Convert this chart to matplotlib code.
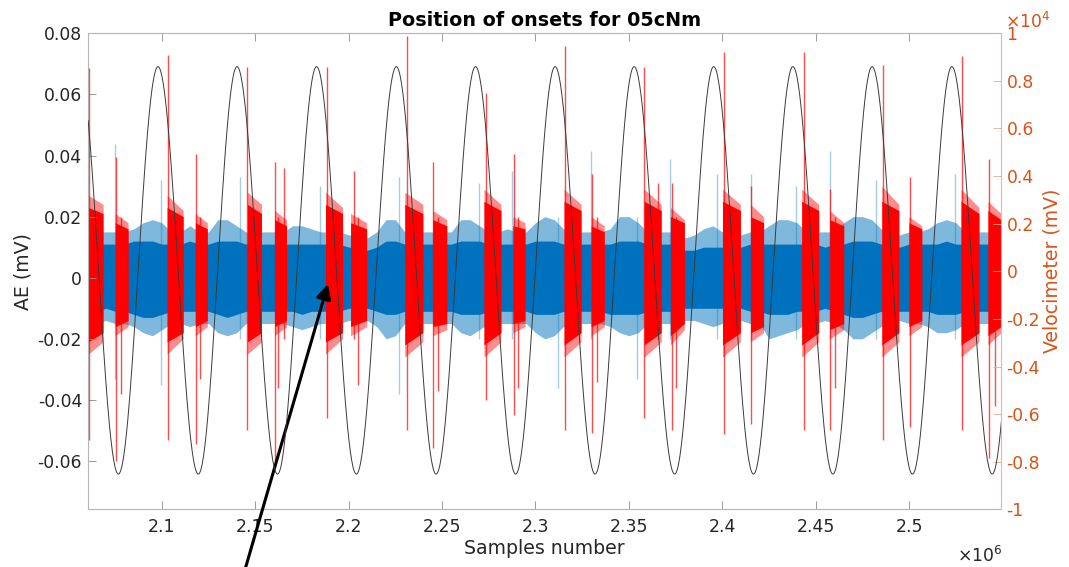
import numpy as np
import matplotlib
matplotlib.use("Agg")
import matplotlib.pyplot as plt

plt.rcParams['font.family'] = ['DejaVu Sans']
plt.rcParams['mathtext.fontset'] = 'dejavusans'

# ---------------- data ----------------
title = "Position of onsets for 05cNm"
x_limits_M = [2.0606, 2.5492]          # samples x 1e6
ae_limits = [-0.0758, 0.08]            # mV
vel_limits = [-1e4, 1e4]               # mV
x_ticks_M = [2.1, 2.15, 2.2, 2.25, 2.3, 2.35, 2.4, 2.45, 2.5]
ae_ticks = [-0.06, -0.04, -0.02, 0.0, 0.02, 0.04, 0.06, 0.08]
vel_ticks = [-10000, -8000, -6000, -4000, -2000, 0, 2000, 4000, 6000, 8000, 10000]

# velocimeter extrema (x in 1e6 samples, value in mV)
vel_peak_x_M = [2.0555, 2.0979, 2.1402, 2.1828, 2.2255, 2.2679, 2.3105,
                2.3528, 2.3954, 2.4378, 2.4802, 2.5229, 2.5655]
vel_peak_mV = [8600, 8600, 8600, 8600, 8600, 8600, 8600,
               8600, 8600, 8600, 8600, 8600, 8600]
vel_trough_x_M = [2.0767, 2.1195, 2.1619, 2.2041, 2.2468, 2.2894,
                  2.3319, 2.3745, 2.4167, 2.4592, 2.5018, 2.5445]
vel_trough_mV = [-8520, -8520, -8520, -8520, -8520, -8520,
                 -8520, -8520, -8520, -8520, -8520, -8520]

# AE (blue) band read every 0.005e6 samples from 2.060e6 (values in 1e-3 mV)
blue_x0_M, blue_step_M = 2.060, 0.005
blue_core_hi = [11, 11, 11, 11, 11, 12, 12, 12, 11, 11, 11, 12, 11, 11, 12, 12, 12, 11, 11, 11,
                11, 11, 11, 11, 11, 11, 11, 11, 10, 10, 9, 10, 12, 12, 11, 11, 11, 11, 11, 11,
                12, 12, 12, 11, 11, 11, 11, 11, 12, 12, 12, 11, 11, 11, 11, 11, 11, 12, 12, 12,
                11, 11, 11, 11, 9, 9, 10, 10, 10, 10, 10, 11, 11, 11, 11, 11, 11, 11, 11, 10,
                11, 11, 12, 12, 12, 11, 11, 10, 11, 11, 11, 11, 12, 11, 11, 11, 11, 11, 11]
blue_core_lo = [-11, -11, -10, -11, -11, -12, -13, -13, -12, -11, -11, -11, -11, -11, -12, -13, -12, -11, -11, -11,
                -11, -11, -11, -12, -11, -11, -11, -11, -10, -10, -10, -11, -12, -12, -11, -11, -11, -11, -11, -11,
                -12, -12, -12, -11, -11, -11, -11, -11, -12, -12, -12, -11, -11, -11, -11, -11, -12, -12, -12, -12,
                -11, -11, -11, -11, -10, -10, -10, -10, -10, -10, -10, -11, -11, -12, -12, -12, -11, -11, -11, -10,
                -11, -12, -13, -13, -12, -11, -11, -11, -11, -11, -11, -12, -12, -12, -11, -11, -11, -11, -11]
blue_fringe_hi = [15, 15, 15, 15, 15, 16, 18, 19, 18, 15, 15, 17, 15, 15, 19, 19, 17, 15, 15, 15,
                  15, 15, 17, 17, 16, 15, 15, 15, 14, 14, 13, 15, 19, 19, 15, 15, 15, 15, 15, 15,
                  19, 19, 17, 15, 15, 16, 15, 15, 18, 20, 19, 16, 15, 15, 15, 15, 16, 20, 20, 18,
                  15, 15, 15, 15, 13, 14, 16, 17, 15, 15, 14, 15, 15, 17, 19, 19, 18, 15, 15, 15,
                  15, 18, 20, 20, 19, 16, 15, 14, 15, 15, 16, 18, 19, 18, 15, 15, 15, 15, 15]
blue_fringe_lo = [-15, -15, -14, -15, -15, -16, -18, -19, -17, -15, -15, -16, -15, -15, -18, -19, -18, -15, -15, -15,
                  -15, -15, -16, -17, -16, -15, -15, -15, -14, -14, -14, -16, -20, -19, -15, -15, -15, -15, -15, -15,
                  -18, -19, -17, -15, -15, -15, -15, -15, -18, -20, -19, -16, -15, -15, -15, -15, -16, -18, -19, -18,
                  -15, -15, -15, -15, -14, -14, -15, -16, -15, -15, -14, -15, -15, -20, -19, -18, -17, -15, -15, -14,
                  -15, -17, -20, -20, -18, -16, -15, -14, -15, -15, -16, -18, -18, -17, -15, -15, -15, -15, -15]

# onset (red) segments: x in 1e6 samples, envelope at start/end in 1e-3 mV
red_start_M = [2.0606, 2.0750, 2.1028, 2.1179, 2.1458, 2.1603, 2.1876, 2.2010, 2.2300, 2.2450, 2.2724, 2.2879,
               2.3153, 2.3298, 2.3582, 2.3722, 2.4001, 2.4151, 2.4425, 2.4575, 2.4854, 2.4999, 2.5278, 2.5422]
red_end_M = [2.0685, 2.0819, 2.1114, 2.1243, 2.1533, 2.1667, 2.1967, 2.2096, 2.2397, 2.2525, 2.2815, 2.2944,
             2.3244, 2.3368, 2.3673, 2.3797, 2.4097, 2.4221, 2.4516, 2.4650, 2.4945, 2.5068, 2.5374, 2.5492]
red_core_hi_start = [23, 18, 23, 18, 24, 19, 24, 18, 24, 19, 25, 17, 25, 17, 25, 20, 25, 20, 25, 19, 25, 18, 25, 22]
red_core_hi_end = [21, 16, 20, 16, 21, 17, 21, 16, 21, 17, 22, 16, 22, 15, 22, 18, 22, 18, 22, 17, 22, 16, 21, 19]
red_core_lo_start = [-21, -16, -21, -16, -21, -16, -21, -16, -22, -16, -22, -15, -22, -16, -22, -19, -22, -18,
                     -22, -17, -22, -16, -22, -19]
red_core_lo_end = [-18, -14, -18, -14, -18, -14, -18, -14, -18, -15, -18, -14, -18, -14, -18, -15, -18, -16,
                   -18, -15, -18, -14, -18, -16]
red_fringe_hi_start = [27, 21, 27, 21, 28, 22, 28, 21, 28, 22, 29, 20, 29, 20, 29, 23, 29, 24, 29, 22, 30, 20, 29, 25]
red_fringe_hi_end = [24, 18, 22, 18, 24, 19, 23, 18, 24, 19, 24, 18, 24, 17, 24, 19, 24, 20, 24, 18, 24, 17, 23, 21]
red_fringe_lo_start = [-25, -19, -25, -19, -25, -19, -25, -19, -26, -19, -26, -18, -26, -19, -26, -22, -26, -21,
                       -26, -20, -26, -19, -26, -22]
red_fringe_lo_end = [-21, -16, -20, -16, -21, -16, -20, -16, -21, -17, -21, -16, -21, -16, -21, -17, -21, -18,
                     -21, -17, -21, -16, -21, -18]

# tall individual red spikes (x in 1e6 samples, values in mV)
red_spike_x_M = [2.0609, 2.0755, 2.0782, 2.1034, 2.1184, 2.1206, 2.1458, 2.1603, 2.1624, 2.1656, 2.1882,
                 2.2026, 2.2048, 2.2311, 2.2450, 2.2477, 2.2735, 2.2885, 2.2906, 2.3158, 2.3303, 2.3330,
                 2.3582, 2.3657, 2.3732, 2.3754, 2.4011, 2.4156, 2.4435, 2.4575, 2.4602, 2.4859, 2.5004,
                 2.5283, 2.5428, 2.5460]
red_spike_top = [0.0688, 0.0395, 0.020, 0.073, 0.0405, 0.020, 0.069, 0.038, 0.020, 0.036, 0.069,
                 0.035, 0.020, 0.079, 0.038, 0.020, 0.0606, 0.0405, 0.020, 0.0757, 0.034, 0.020,
                 0.069, 0.031, 0.031, 0.020, 0.074, 0.030, 0.074, 0.029, 0.020, 0.0695, 0.033,
                 0.0727, 0.039, 0.020]
red_spike_bot = [-0.053, -0.060, -0.038, -0.053, -0.0545, -0.033, -0.050, -0.061, -0.036, -0.020, -0.046,
                 -0.020, -0.035, -0.0497, -0.0556, -0.037, -0.040, -0.045, -0.036, -0.050, -0.0507, -0.034,
                 -0.046, -0.020, -0.050, -0.036, -0.0513, -0.048, -0.0497, -0.050, -0.036, -0.053, -0.049,
                 -0.050, -0.059, -0.042]

# lighter blue spikes
blue_spike_x_M = [2.0750, 2.0996, 2.1420, 2.1844, 2.2268, 2.2697, 2.2874, 2.3121, 2.3298, 2.3545,
                  2.3722, 2.3969, 2.4151, 2.4392, 2.4575, 2.4822, 2.5245]
blue_spike_top = [0.0437, 0.032, 0.033, 0.030, 0.033, 0.031, 0.035, 0.020, 0.0415, 0.020,
                  0.039, 0.034, 0.034, 0.030, 0.0415, 0.032, 0.034]
blue_spike_bot = [-0.033, -0.035, -0.020, -0.020, -0.038, -0.020, -0.020, -0.036, -0.020, -0.033,
                  -0.020, -0.020, -0.020, -0.020, -0.020, -0.020, -0.020]

# ---------------- figure ----------------
BLUE = '#0072BD'
RED = '#FF0000'
ORANGE = '#D95319'
GRAYTXT = '#262626'

fig = plt.figure(figsize=(10.69, 5.67), dpi=100)
W, H = 1069, 567
ax = fig.add_axes([88.3 / W, 1 - 509.3 / H, (1001 - 88.3) / W, (509.3 - 33.3) / H])

M = 1e6
bx = (blue_x0_M + blue_step_M * np.arange(len(blue_core_hi))) * M
ax.fill_between(bx, np.array(blue_fringe_lo) * 1e-3, np.array(blue_fringe_hi) * 1e-3,
                color=BLUE, alpha=0.5, lw=0)
ax.fill_between(bx, np.array(blue_core_lo) * 1e-3, np.array(blue_core_hi) * 1e-3,
                color=BLUE, lw=0)
ax.vlines(np.array(blue_spike_x_M) * M, blue_spike_bot, blue_spike_top,
          colors=BLUE, alpha=0.35, lw=1.0)

for i in range(len(red_start_M)):
    xs = [red_start_M[i] * M, red_end_M[i] * M]
    ax.fill_between(xs, [red_fringe_hi_start[i] * 1e-3, red_fringe_hi_end[i] * 1e-3],
                    [red_fringe_lo_start[i] * 1e-3, red_fringe_lo_end[i] * 1e-3],
                    color=RED, alpha=0.45, lw=0)
    ax.fill_between(xs, [red_core_hi_start[i] * 1e-3, red_core_hi_end[i] * 1e-3],
                    [red_core_lo_start[i] * 1e-3, red_core_lo_end[i] * 1e-3],
                    color=RED, lw=0)
ax.vlines(np.array(red_spike_x_M) * M, red_spike_bot, red_spike_top,
          colors=RED, alpha=0.7, lw=1.0)

ax.set_xlim(x_limits_M[0] * M, x_limits_M[1] * M)
ax.set_ylim(*ae_limits)
ax.set_xticks(np.array(x_ticks_M) * M)
ax.set_xticklabels([f"{v:g}" for v in x_ticks_M])
ax.set_yticks(ae_ticks)
ax.set_yticklabels(["0" if abs(v) < 1e-12 else f"{v:g}" for v in ae_ticks])
ax.tick_params(axis='both', direction='in', length=6, width=0.6, color='#8c8c8c',
               labelcolor=GRAYTXT, labelsize=12.4, top=True, right=False)
ax.tick_params(axis='x', pad=6)
ax.tick_params(axis='y', pad=4.5)
for sp in ['left', 'top', 'bottom']:
    ax.spines[sp].set_color('#b4b4b4')
    ax.spines[sp].set_linewidth(0.8)
ax.spines['right'].set_visible(False)

ax.set_ylabel("AE (mV)", fontsize=13.6, color=GRAYTXT)
ax.yaxis.set_label_coords(-0.061, 0.5)
ax.set_xlabel("Samples number", fontsize=13.6, color=GRAYTXT)
ax.xaxis.set_label_coords(0.5, -0.063)

# velocimeter on right axis
ax2 = ax.twinx()
ext = sorted(list(zip(vel_peak_x_M, vel_peak_mV)) + list(zip(vel_trough_x_M, vel_trough_mV)))
vx, vy = [], []
t = np.linspace(0, 1, 60)
for (x0, y0), (x1, y1) in zip(ext[:-1], ext[1:]):
    vx.append((x0 + (x1 - x0) * t) * M)
    vy.append((y0 + y1) / 2 + (y0 - y1) / 2 * np.cos(np.pi * t))
ax2.plot(np.concatenate(vx), np.concatenate(vy), color='#3a3a3a', lw=0.7)
ax2.set_ylim(*vel_limits)
ax2.set_xlim(x_limits_M[0] * M, x_limits_M[1] * M)
ax2.set_yticks(vel_ticks)
ax2.set_yticklabels([f"{v / 1e4:g}" for v in vel_ticks])
ax2.tick_params(axis='y', direction='in', length=6, width=0.6, color='#f0a888',
                labelcolor=ORANGE, labelsize=12.4, pad=4)
for sp in ['left', 'top', 'bottom']:
    ax2.spines[sp].set_visible(False)
ax2.spines['right'].set_color('#f0b49c')
ax2.spines['right'].set_linewidth(0.8)
ax2.set_ylabel("Velocimeter (mV)", fontsize=13.6, color=ORANGE)
ax2.yaxis.set_label_coords(1.046, 0.5)

# title and exponent labels
fig.text(545 / W, 1 - 26 / H, title, ha='center', va='baseline', fontsize=13.8,
         fontweight='bold', color='#000000')
fig.text(957 / W, 1 - 562 / H, r'$\times10^{6}$', ha='left', va='baseline',
         fontsize=12.4, color=GRAYTXT)
fig.text(1005 / W, 1 - 28 / H, r'$\times10^{4}$', ha='left', va='baseline',
         fontsize=12.4, color=ORANGE)

# arrow annotation
ax.annotate('', xy=(328, H - 284), xycoords='figure pixels',
            xytext=(244, -6), textcoords='figure pixels',
            arrowprops=dict(arrowstyle='-|>', lw=2.2, color='k', mutation_scale=22,
                            shrinkA=0, shrinkB=0),
            annotation_clip=False)

fig.savefig('out.png', dpi=100)
